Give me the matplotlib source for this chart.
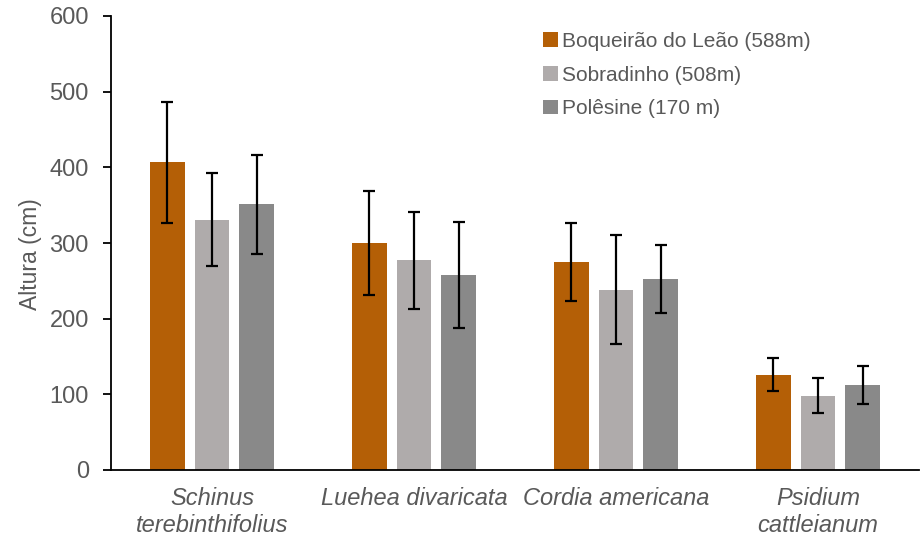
import matplotlib
matplotlib.use("Agg")
import matplotlib.pyplot as plt
import numpy as np

categories = ["Schinus\nterebinthifolius", "Luehea divaricata", "Cordia americana", "Psidium\ncattleianum"]
series_names = ["Boqueirão do Leão (588m)", "Sobradinho (508m)", "Polêsine (170 m)"]
boqueirao = [407, 300, 275, 126]
boqueirao_err = [80, 69, 52, 22]
sobradinho = [331, 277, 238, 98]
sobradinho_err = [61, 64, 72, 23]
polesine = [351, 258, 252, 112]
polesine_err = [65, 70, 45, 25]
yticks = [0, 100, 200, 300, 400, 500, 600]

colors = ["#B45F06", "#AFABAB", "#898989"]
text_color = "#595959"

plt.rcParams['font.family'] = ['Liberation Sans', 'DejaVu Sans']

fig = plt.figure(figsize=(9.22, 5.42), dpi=100)
ax = fig.add_axes([111/922, 1-470/542, 808/922, 454/542])

x = np.arange(len(categories))
width = 0.173
offset = 0.221
data = [(boqueirao, boqueirao_err), (sobradinho, sobradinho_err), (polesine, polesine_err)]
for i, (vals, errs) in enumerate(data):
    ax.bar(x + (i-1)*offset, vals, width, color=colors[i], label=series_names[i],
           yerr=errs, error_kw=dict(ecolor="black", elinewidth=1.6, capsize=4.5, capthick=1.6))

ax.set_xlim(-0.5, 3.5)
ax.set_ylim(0, 600)
ax.set_yticks(yticks)
ax.set_yticklabels([str(t) for t in yticks], fontsize=17, color=text_color)
ax.set_xticks(x)
ax.set_xticklabels(categories, fontsize=17, color=text_color, style='italic', linespacing=1.22)
ax.tick_params(axis='x', length=0, pad=12)
ax.tick_params(axis='y', length=6, width=1.3, color='black', pad=10, direction='out')
for s in ['top', 'right']:
    ax.spines[s].set_visible(False)
ax.spines['left'].set_linewidth(1.3)
ax.spines['bottom'].set_linewidth(1.3)
ax.spines['left'].set_color('black')
ax.spines['bottom'].set_color('black')
ax.set_ylabel("Altura (cm)", fontsize=16.5, color=text_color)
ax.yaxis.set_label_coords(-0.085, 0.476)

leg = ax.legend(loc='upper left', frameon=False, fontsize=15, handlelength=0.7, handleheight=0.7,
                handletextpad=0.22, labelspacing=0.7, borderaxespad=0, borderpad=0)
for t in leg.get_texts():
    t.set_color(text_color)
leg.set_bbox_to_anchor((543/922, 1-32/542), transform=fig.transFigure)

fig.savefig("out.png", dpi=100)
